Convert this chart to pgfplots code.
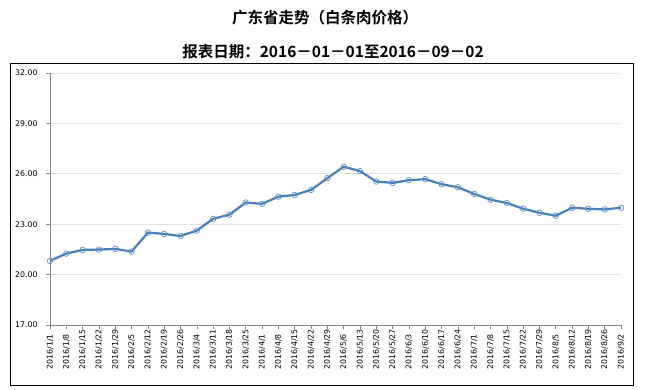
\documentclass[border=0pt]{standalone}
\usepackage{pgfplots}
\pgfplotsset{compat=1.18}
\usepackage{fontspec}
\setmainfont{DejaVu Sans}
\newfontfamily\cjk{Noto Sans CJK SC}[BoldFont={* Bold}]
\definecolor{lineblue}{RGB}{74,126,187}
\definecolor{gridgray}{RGB}{225,225,225}
\definecolor{axisgray}{RGB}{134,134,134}
\pgfplotstableread{
x y
0 20.82
1 21.25
2 21.47
3 21.49
4 21.53
5 21.37
6 22.50
7 22.42
8 22.30
9 22.62
10 23.32
11 23.57
12 24.29
13 24.21
14 24.64
15 24.74
16 25.04
17 25.74
18 26.42
19 26.16
20 25.54
21 25.46
22 25.62
23 25.68
24 25.38
25 25.20
26 24.80
27 24.46
28 24.26
29 23.92
30 23.68
31 23.50
32 23.98
33 23.92
34 23.88
35 23.98
}\pricedata
\begin{document}
\begin{tikzpicture}[x=1pt,y=1pt]
\fill[white] (0,0) rectangle (645,390);
\draw[black, line width=0.9pt] (10,5) rectangle (633,327);
\node[font=\cjk\bfseries\fontsize{15.5}{17}\selectfont] at (325,372) {广东省走势（白条肉价格）};
\node[font=\cjk\bfseries\fontsize{15.5}{17}\selectfont] at (333,338) {报表日期：2016－01－01至2016－09－02};
\begin{axis}[
  at={(50pt,65pt)}, anchor=south west,
  width=571pt, height=252pt, scale only axis,
  xmin=0, xmax=35, ymin=17, ymax=32,
  axis x line*=bottom, axis y line*=left,
  axis line style={axisgray, line width=0.8pt},
  ytick={17,20,23,26,29,32},
  /pgf/number format/fixed, /pgf/number format/fixed zerofill, /pgf/number format/precision=2,
  /pgf/number format/assume math mode=true,
  yticklabel style={font=\fontsize{7.8}{8}\selectfont, xshift=-5pt},
  ymajorgrids, grid style={gridgray, line width=0.6pt},
  xtick={0,...,35},
  xticklabels={2016/1/1,2016/1/8,2016/1/15,2016/1/22,2016/1/29,2016/2/5,2016/2/12,2016/2/19,2016/2/26,2016/3/4,2016/3/11,2016/3/18,2016/3/25,2016/4/1,2016/4/8,2016/4/15,2016/4/22,2016/4/29,2016/5/6,2016/5/13,2016/5/20,2016/5/27,2016/6/3,2016/6/10,2016/6/17,2016/6/24,2016/7/1,2016/7/8,2016/7/15,2016/7/22,2016/7/29,2016/8/5,2016/8/12,2016/8/19,2016/8/26,2016/9/2},
  xticklabel style={font=\fontsize{7.8}{8}\selectfont, rotate=90, anchor=east, text width=40pt, align=left, inner xsep=0pt},
  tick align=outside, major tick length=4pt,
  tick style={axisgray, line width=0.6pt},
  clip=false,
]
\addplot[lineblue, line width=2.2pt, mark=o, mark size=2.8pt,
  mark options={fill=white, fill opacity=0.6, line width=0.7pt, draw=lineblue!85}] table[x=x,y=y] {\pricedata};
\end{axis}
\end{tikzpicture}
\end{document}
